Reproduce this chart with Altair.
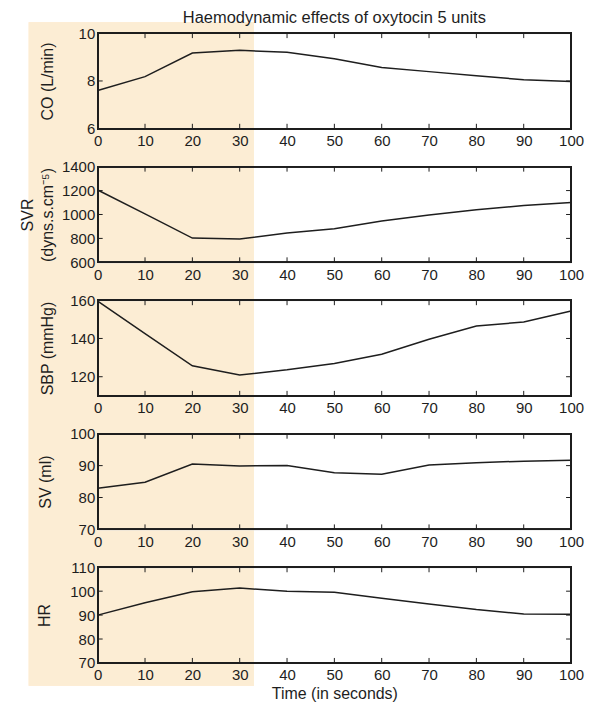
import altair as alt
import pandas as pd

# ---- data ----
time = [0, 10, 20, 30, 40, 50, 60, 70, 80, 90, 100]
co = [7.6, 8.18, 9.17, 9.28, 9.2, 8.93, 8.56, 8.39, 8.22, 8.05, 7.98]
svr = [1205, 1005, 803, 795, 845, 880, 945, 995, 1040, 1075, 1100]
sbp = [159.5, 142.5, 125.7, 120.9, 123.6, 126.9, 131.8, 139.6, 146.5, 148.6, 154.3]
sv = [82.9, 84.8, 90.5, 89.9, 90.0, 87.8, 87.3, 90.2, 90.9, 91.4, 91.7]
hr = [90, 95.2, 99.8, 101.3, 100.0, 99.6, 97.0, 94.6, 92.3, 90.5, 90.4]

x_ticks = [0, 10, 20, 30, 40, 50, 60, 70, 80, 90, 100]
co_ticks = [6, 8, 10]
svr_ticks = [600, 800, 1000, 1200, 1400]
sbp_ticks = [120, 140, 160]
sv_ticks = [70, 80, 90, 100]
hr_ticks = [70, 80, 90, 100, 110]

shade_end = 33  # seconds

W, H = 475, 96
GAP = 38
TICK = 5
INK = "#1e1e1e"
SHADE = "#FCEDD4"
FONT = "Liberation Sans"


def panel(vals, title, domain, yticks, first=False, last=False, title_x=-50):
    df = pd.DataFrame({"t": time, "v": vals})
    xs = alt.Scale(domain=[0, 100], nice=False, zero=False)
    ys = alt.Scale(domain=domain, nice=False, zero=False)
    xaxis = alt.Axis(values=x_ticks, ticks=False, domain=False, grid=False,
                     labelPadding=5, labelFontSize=15, labelColor=INK,
                     labelFlush=False, labelOverlap=False, zindex=1,
                     title="Time (in seconds)" if last else None,
                     titleFontSize=16, titleFontWeight="normal",
                     titleColor=INK, titlePadding=3)
    yaxis = alt.Axis(values=yticks, ticks=False, domain=False, grid=False,
                     format="d",
                     labelPadding=3, labelFontSize=15, labelColor=INK,
                     labelOverlap=False, zindex=1,
                     title=title, titleFontSize=16, titleFontWeight="normal",
                     titleColor=INK, titleAngle=-90, titleX=title_x,
                     titleY=H / 2, titleBaseline="middle", titleAlign="center",
                     titleLineHeight=20)
    X = alt.X("t:Q", scale=xs, axis=xaxis)
    Y = alt.Y("v:Q", scale=ys, axis=yaxis)

    layers = []
    if first:
        layers.append(
            alt.Chart(df).mark_rect(color=SHADE).encode(
                x=alt.X(datum=shade_end, scale=xs, axis=xaxis),
                x2=alt.value(-69),
                y=alt.value(-11),
                y2=alt.value(4 * (H + GAP) + H + 23),
            )
        )
    line = alt.Chart(df).mark_line(color=INK, strokeWidth=1.5).encode(x=X, y=Y)
    xt = pd.DataFrame({"t": x_ticks})
    yt = pd.DataFrame({"v": yticks})
    bt = alt.Chart(xt).mark_rule(color=INK, strokeWidth=1).encode(
        x=X, y=alt.value(H), y2=alt.value(H - TICK))
    tt = alt.Chart(xt).mark_rule(color=INK, strokeWidth=1).encode(
        x=X, y=alt.value(0), y2=alt.value(TICK))
    lt = alt.Chart(yt).mark_rule(color=INK, strokeWidth=1).encode(
        y=Y, x=alt.value(0), x2=alt.value(TICK))
    rt = alt.Chart(yt).mark_rule(color=INK, strokeWidth=1).encode(
        y=Y, x=alt.value(W), x2=alt.value(W - TICK))
    frame = alt.Chart(xt).mark_rect(filled=False, stroke=INK, strokeWidth=1.3).encode(
        x=alt.value(0), x2=alt.value(W), y=alt.value(0), y2=alt.value(H))
    layers += [line, bt, tt, lt, rt, frame]
    ch = alt.layer(*layers).properties(width=W, height=H)
    if first:
        ch = ch.properties(title=alt.TitleParams(
            "Haemodynamic effects of oxytocin 5 units", fontSize=16.5,
            fontWeight="normal", color=INK, anchor="middle", offset=-4))
    return ch


p1 = panel(co, "CO (L/min)", [6, 10], co_ticks, first=True)
p2 = panel(svr, ["SVR", "(dyns.s.cm\u207b\u2075)"], [600, 1400], svr_ticks, title_x=-70)
p3 = panel(sbp, "SBP (mmHg)", [110, 160], sbp_ticks)
p4 = panel(sv, "SV (ml)", [70, 100], sv_ticks, title_x=-52)
p5 = panel(hr, "HR", [70, 110], hr_ticks, last=True, title_x=-53)

chart = alt.vconcat(p1, p2, p3, p4, p5, spacing=GAP, bounds="flush").properties(
    padding={"left": 11, "top": 0, "right": 0, "bottom": 0}
).configure_view(stroke=None).configure(font=FONT, background="white")

chart.save("out.html", embed_options={"renderer": "svg", "actions": False})
